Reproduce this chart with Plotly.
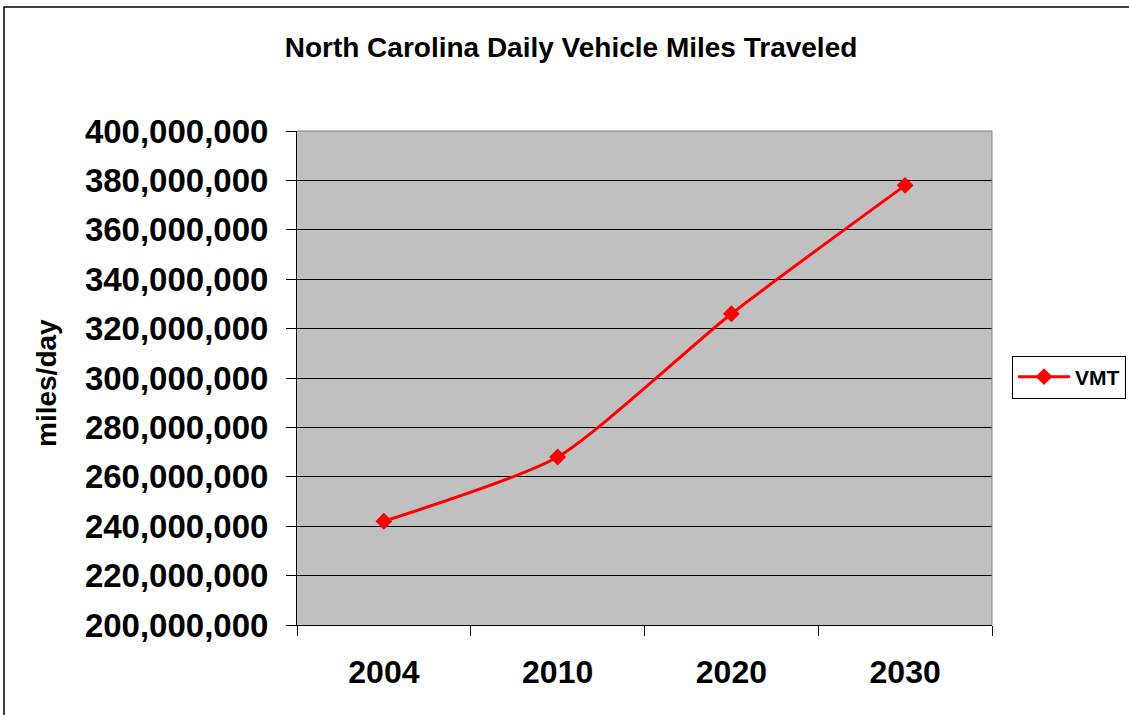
import plotly.graph_objects as go

# North Carolina daily vehicle miles traveled, by year
years = ["2004", "2010", "2020", "2030"]
vmt = [242_000_000, 268_000_000, 326_000_000, 378_000_000]

y_ticks = list(range(200_000_000, 400_000_001, 20_000_000))

W, H = 1129, 715
L, R, T, B = 297, 137, 131, 90
pw, ph = W - L - R, H - T - B


def px_x(p):
    return (p - L) / pw


def px_y(p):
    return (H - B - p) / ph


FONT = "Liberation Sans, Arial, sans-serif"

fig = go.Figure()
fig.add_trace(go.Scatter(
    x=years, y=vmt, name="VMT", mode="lines+markers",
    line=dict(color="#FF0000", width=3, shape="spline", smoothing=0.6),
    marker=dict(symbol="diamond", size=13, color="#FF0000"),
))

fig.update_layout(
    width=W, height=H,
    margin=dict(l=L, r=R, t=T, b=B, autoexpand=False),
    paper_bgcolor="white",
    plot_bgcolor="#C0C0C0",
    font=dict(family=FONT, color="black"),
    title=dict(
        text="North Carolina Daily Vehicle Miles Traveled",
        font=dict(size=28, family=FONT, color="black", weight="bold"),
        x=(287 + 855) / 2 / W, xanchor="center",
        y=1 - 47 / H, yanchor="middle", yref="container",
    ),
    xaxis=dict(
        type="category", tickson="boundaries",
        range=[-0.5, 3.5],
        ticks="outside", ticklen=10, tickcolor="black", tickwidth=1,
        showline=True, linecolor="black", linewidth=1,
        showgrid=False, mirror=False,
        tickfont=dict(size=32, family=FONT, color="black", weight="bold"),
        ticklabelstandoff=19,
    ),
    yaxis=dict(
        range=[200_000_000, 400_000_000],
        tickvals=y_ticks, tickformat=",d",
        ticks="outside", ticklen=10, tickcolor="black", tickwidth=1,
        showline=True, linecolor="black", linewidth=1,
        showgrid=True, gridcolor="black", gridwidth=1,
        zeroline=False,
        tickfont=dict(size=33, family=FONT, color="black", weight="bold"),
        ticklabelstandoff=11,
    ),
    legend=dict(
        xref="container", yref="container",
        x=1012 / W, xanchor="left", y=1 - 377 / H, yanchor="middle",
        bordercolor="black", borderwidth=1, bgcolor="white",
        font=dict(size=21, family=FONT, color="black", weight="bold"),
        itemwidth=52,
    ),
    showlegend=True,
)

# Y-axis title
fig.add_annotation(
    text="miles/day", textangle=-90,
    xref="paper", yref="paper", x=px_x(46), y=px_y(383),
    xanchor="center", yanchor="middle", showarrow=False,
    font=dict(size=28, family=FONT, color="black", weight="bold"),
)

# Plot area frame (top and right edges in gray)
fig.add_shape(type="line", xref="paper", yref="paper",
              x0=0, x1=1, y0=1, y1=1, line=dict(color="#808080", width=1))
fig.add_shape(type="line", xref="paper", yref="paper",
              x0=1, x1=1, y0=0, y1=1, line=dict(color="#808080", width=1))

# Chart outer border
fig.add_shape(type="rect", xref="paper", yref="paper",
              x0=px_x(4), x1=px_x(W + 20), y0=px_y(H + 20), y1=px_y(7),
              line=dict(color="black", width=1.5), layer="below")

fig.write_html("out.html")
